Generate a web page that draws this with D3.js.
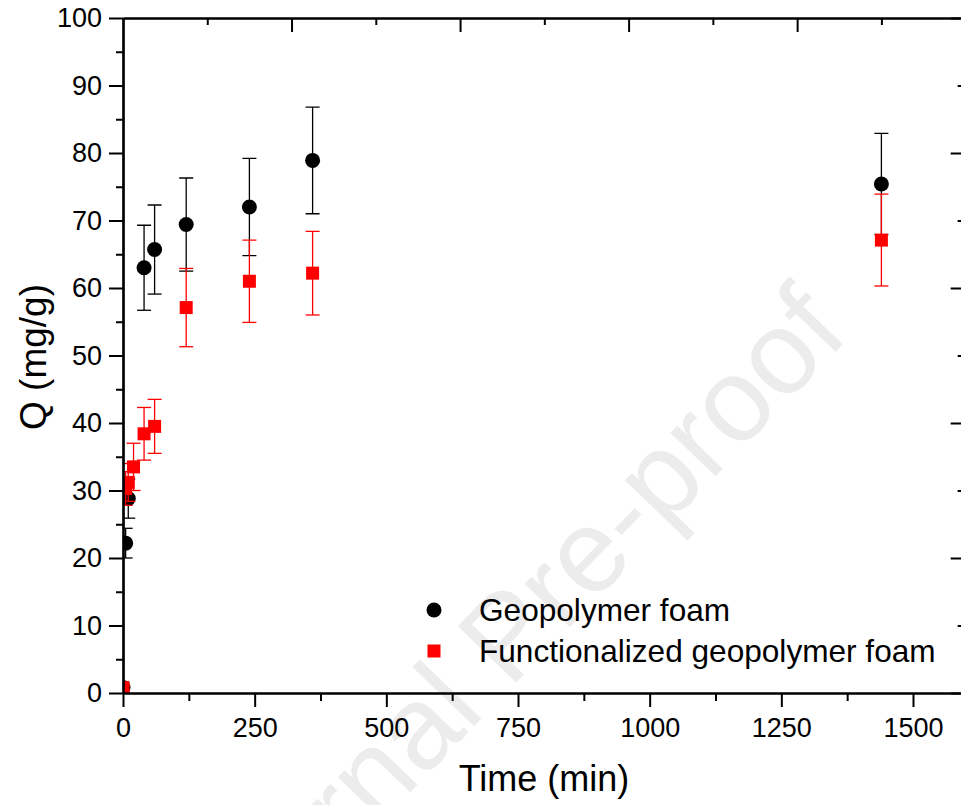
<!DOCTYPE html>
<html>
<head>
<meta charset="utf-8">
<script src="https://cdn.jsdelivr.net/npm/d3@7/dist/d3.min.js"></script>
<style>
  body { margin: 0; background: #fff; }
  svg { display: block; font-family: "Liberation Sans", Arial, sans-serif; }
</style>
</head>
<body>
<script>
'use strict';

// time (min) for each series
const geoTime = [0, 5, 10, 40, 60, 120, 240, 360, 1440];
const geoQ    = [0.8, 22.2, 28.8, 63.0, 65.7, 69.4, 72.0, 78.9, 75.4];
const geoErr  = [0.5, 2.2, 2.9, 6.3, 6.6, 6.9, 7.2, 7.9, 7.5];

const funTime = [0, 5, 10, 20, 40, 60, 120, 240, 360, 1440];
const funQ    = [0.8, 30.3, 31.2, 33.5, 38.4, 39.5, 57.1, 61.0, 62.2, 67.1];
const funErr  = [0.4, 2.5, 2.8, 3.5, 3.9, 4.0, 5.8, 6.1, 6.2, 6.8];

const xTicks = [0, 250, 500, 750, 1000, 1250, 1500];
const yTicks = [0, 10, 20, 30, 40, 50, 60, 70, 80, 90, 100];

const seriesNames = ['Geopolymer foam', 'Functionalized geopolymer foam'];

(function () {
  const width = 961, height = 805;
  const left = 123, top = 18, bottom = 693;

  const svg = d3.select('body').append('svg')
    .attr('width', width)
    .attr('height', height);

  // watermark behind everything
  svg.append('text')
    .attr('transform', 'translate(512,642) rotate(-46)')
    .attr('text-anchor', 'middle')
    .attr('dominant-baseline', 'middle')
    .style('font-size', '118px')
    .style('fill', '#ececec')
    .text('Journal Pre-proof');

  let x = d3.scaleLinear().domain([0, 1600]).range([left, left + 1600 * (790 / 1500)]);
  let y = d3.scaleLinear().domain([0, 100]).range([bottom, top]);
  const right = x(1600);

  svg.append('defs').append('clipPath').attr('id', 'plotClip')
    .append('rect')
    .attr('x', left).attr('y', top)
    .attr('width', right - left).attr('height', bottom - top);

  const plot = svg.append('g').attr('clip-path', 'url(#plotClip)');

  // error bars + markers
  function drawSeries(times, vals, errs, color, shape) {
    let rows = times.map((t, i) => ({ t: t, v: vals[i], e: errs[i] }));
    let g = plot.append('g');
    let eb = g.selectAll('.eb').data(rows).enter().append('g')
      .attr('stroke', color).attr('stroke-width', 1.3);
    eb.append('line')
      .attr('x1', d => x(d.t)).attr('x2', d => x(d.t))
      .attr('y1', d => y(d.v + d.e)).attr('y2', d => y(d.v - d.e));
    eb.append('line')
      .attr('x1', d => x(d.t) - 7).attr('x2', d => x(d.t) + 7)
      .attr('y1', d => y(d.v + d.e)).attr('y2', d => y(d.v + d.e));
    eb.append('line')
      .attr('x1', d => x(d.t) - 7).attr('x2', d => x(d.t) + 7)
      .attr('y1', d => y(d.v - d.e)).attr('y2', d => y(d.v - d.e));

    if (shape === 'circle') {
      g.selectAll('.pt').data(rows).enter().append('circle')
        .attr('cx', d => x(d.t)).attr('cy', d => y(d.v))
        .attr('r', 7.5).attr('fill', color);
    } else {
      g.selectAll('.pt').data(rows).enter().append('rect')
        .attr('x', d => x(d.t) - 6.5).attr('y', d => y(d.v) - 6.5)
        .attr('width', 13).attr('height', 13).attr('fill', color);
    }
  }

  drawSeries(geoTime, geoQ, geoErr, '#000', 'circle');
  drawSeries(funTime, funQ, funErr, '#ff0000', 'square');

  // axes
  const yMinor = d3.range(0, 101, 5).filter(v => v % 10 !== 0);
  const xMinor = d3.range(125, 1600, 250);

  svg.append('g').attr('transform', 'translate(0,' + bottom + ')')
    .call(d3.axisBottom(x).tickValues(xTicks).tickSize(14).tickSizeOuter(0).tickPadding(11).tickFormat(d3.format('d')));
  svg.append('g').attr('transform', 'translate(0,' + bottom + ')')
    .call(d3.axisBottom(x).tickValues(xMinor).tickSize(8).tickSizeOuter(0).tickFormat(''));

  svg.append('g').attr('transform', 'translate(' + left + ',0)')
    .call(d3.axisLeft(y).tickValues(yTicks).tickSize(14).tickSizeOuter(0).tickPadding(7));
  svg.append('g').attr('transform', 'translate(' + left + ',0)')
    .call(d3.axisLeft(y).tickValues(yMinor).tickSize(7).tickSizeOuter(0).tickFormat(''));

  // top axis: inward ticks, major 320 / minor 160
  svg.append('g').attr('transform', 'translate(0,' + top + ')')
    .call(d3.axisBottom(x).tickValues(d3.range(320, 1601, 320)).tickSize(14).tickSizeOuter(0).tickFormat(''));
  svg.append('g').attr('transform', 'translate(0,' + top + ')')
    .call(d3.axisBottom(x).tickValues(d3.range(160, 1601, 320)).tickSize(7).tickSizeOuter(0).tickFormat(''));

  // right axis: inward ticks, major 20 / minor 10
  svg.append('g').attr('transform', 'translate(' + right + ',0)')
    .call(d3.axisLeft(y).tickValues(d3.range(0, 101, 20)).tickSize(15).tickSizeOuter(0).tickFormat(''));
  svg.append('g').attr('transform', 'translate(' + right + ',0)')
    .call(d3.axisLeft(y).tickValues(d3.range(10, 100, 20)).tickSize(8).tickSizeOuter(0).tickFormat(''));

  svg.selectAll('.domain').attr('stroke', '#000').attr('stroke-width', 2.2);
  svg.selectAll('.tick line').attr('stroke', '#000').attr('stroke-width', 2);
  svg.selectAll('.tick text').style('font-size', '27px').attr('fill', '#000')
    .style('font-family', '"Liberation Sans", Arial, sans-serif');

  // axis titles
  svg.append('text')
    .attr('x', 544).attr('y', 791)
    .attr('text-anchor', 'middle')
    .style('font-size', '36px')
    .text('Time (min)');

  svg.append('text')
    .attr('transform', 'translate(46,357) rotate(-90)')
    .attr('text-anchor', 'middle')
    .style('font-size', '37px')
    .text('Q (mg/g)');

  // legend
  let legend = svg.append('g');
  legend.append('circle').attr('cx', 434).attr('cy', 610).attr('r', 7.5).attr('fill', '#000');
  legend.append('rect').attr('x', 427.5).attr('y', 644.5).attr('width', 13).attr('height', 13).attr('fill', '#ff0000');
  legend.selectAll('.lt').data(seriesNames).enter().append('text')
    .attr('x', 479)
    .attr('y', (d, i) => 621 + i * 41)
    .style('font-size', '31.6px')
    .text(d => d);
})();
</script>
</body>
</html>
